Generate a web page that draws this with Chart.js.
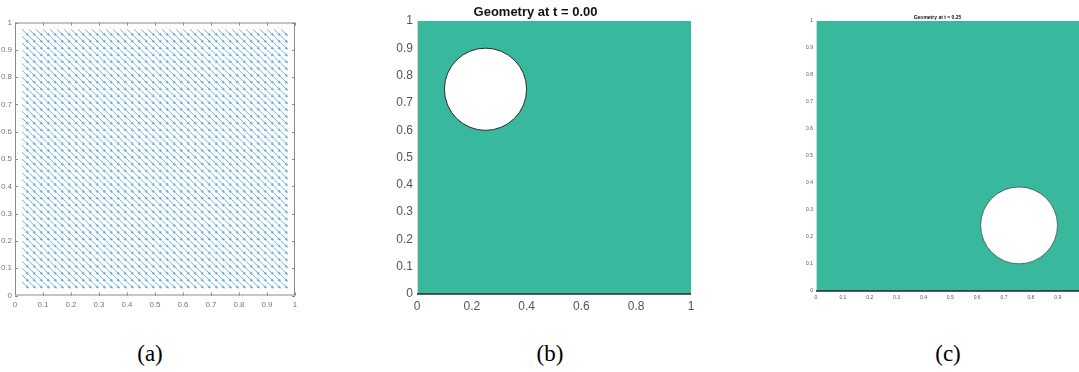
<!DOCTYPE html>
<html>
<head>
<meta charset="utf-8">
<script src="https://cdn.jsdelivr.net/npm/chart.js@4.4.1/dist/chart.umd.min.js"></script>
<style>
  html, body { margin: 0; padding: 0; background: #fff; width: 1079px; height: 372px; overflow: hidden; }
  .panel { position: absolute; }
  .cap { position: absolute; top: 341px; width: 60px; text-align: center; font-family: "Liberation Serif", "DejaVu Serif", serif; font-size: 23px; color: #000; }
</style>
</head>
<body>
<div class="panel" style="left:0;top:0;width:310px;height:320px"><canvas id="quiver" width="310" height="320"></canvas></div>
<div class="panel" style="left:380px;top:0;width:330px;height:330px"><canvas id="geo0" width="330" height="330"></canvas></div>
<div class="panel" style="left:790px;top:0;width:300px;height:310px"><canvas id="geo1" width="300" height="310"></canvas></div>
<div class="cap" style="left:120px">(a)</div>
<div class="cap" style="left:520px">(b)</div>
<div class="cap" style="left:918px">(c)</div>
<script>
// quiver grid (arrow tails) and uniform velocity
const gridX = [0.025, 0.05, 0.075, 0.1, 0.125, 0.15, 0.175, 0.2, 0.225, 0.25, 0.275, 0.3, 0.325, 0.35, 0.375, 0.4, 0.425, 0.45, 0.475, 0.5,
  0.525, 0.55, 0.575, 0.6, 0.625, 0.65, 0.675, 0.7, 0.725, 0.75, 0.775, 0.8, 0.825, 0.85, 0.875, 0.9, 0.925, 0.95];
const gridY = [0.05, 0.075, 0.1, 0.125, 0.15, 0.175, 0.2, 0.225, 0.25, 0.275, 0.3, 0.325, 0.35, 0.375, 0.4, 0.425, 0.45, 0.475, 0.5, 0.525,
  0.55, 0.575, 0.6, 0.625, 0.65, 0.675, 0.7, 0.725, 0.75, 0.775, 0.8, 0.825, 0.85, 0.875, 0.9, 0.925, 0.95, 0.975];
const velU = 1;
const velV = -1;
const arrowScale = 0.0225;

// geometry snapshots: hole centre and radius
const holeT0 = { x: 0.25, y: 0.75, r: 0.15 };
const holeT1 = { x: 0.756, y: 0.243, r: 0.143 };
const titleT0 = 'Geometry at t = 0.00';
const titleT1 = 'Geometry at t = 0.25';

// tick values
const ticksTenth = [0, 0.1, 0.2, 0.3, 0.4, 0.5, 0.6, 0.7, 0.8, 0.9, 1];
const ticksFifth = [0, 0.2, 0.4, 0.6, 0.8, 1];
const tickLabel = v => (v === 0 || v === 1) ? String(v) : v.toFixed(1);

const GREEN = 'rgb(56,185,157)';

// build quiver segments (shaft + 2 head strokes), separated by gaps
const quiverData = [];
gridY.forEach(y0 => {
  gridX.forEach(x0 => {
    const dx = velU * arrowScale, dy = velV * arrowScale;
    const x1 = x0 + dx, y1 = y0 + dy;
    const ang = Math.atan2(dy, dx), hl = 0.3 * Math.hypot(dx, dy);
    quiverData.push({ x: x0, y: y0 }, { x: x1, y: y1 }, { x: NaN, y: NaN });
    [0.45, -0.45].forEach(a => {
      quiverData.push({ x: x1, y: y1 },
        { x: x1 - hl * Math.cos(ang + a), y: y1 - hl * Math.sin(ang + a) },
        { x: NaN, y: NaN });
    });
  });
});

function fixedTicks(values) {
  return s => { s.ticks = values.map(v => ({ value: v })); };
}

// MATLAB style box with inward ticks
const boxPlugin = {
  id: 'box',
  afterDatasetsDraw(chart) {
    const { ctx, chartArea: a, scales } = chart;
    ctx.save();
    ctx.strokeStyle = '#8a8a8a';
    ctx.lineWidth = 1;
    ctx.strokeRect(a.left + 0.5, a.top + 0.5, a.right - a.left - 1, a.bottom - a.top - 1);
    ctx.beginPath();
    ticksTenth.forEach(v => {
      const px = Math.round(scales.x.getPixelForValue(v)) + 0.5;
      ctx.moveTo(px, a.bottom); ctx.lineTo(px, a.bottom - 3);
      ctx.moveTo(px, a.top); ctx.lineTo(px, a.top + 3);
      const py = Math.round(scales.y.getPixelForValue(v)) + 0.5;
      ctx.moveTo(a.left, py); ctx.lineTo(a.left + 3, py);
      ctx.moveTo(a.right, py); ctx.lineTo(a.right - 3, py);
    });
    ctx.stroke();
    ctx.restore();
  }
};

// green domain with dark bottom edge
const domainPlugin = {
  id: 'domain',
  beforeDatasetsDraw(chart) {
    const { ctx, chartArea: a } = chart;
    ctx.save();
    ctx.fillStyle = GREEN;
    ctx.fillRect(a.left, a.top, a.right - a.left, a.bottom - a.top);
    ctx.strokeStyle = '#d8d8d8';
    ctx.lineWidth = 1;
    ctx.beginPath();
    ctx.moveTo(a.left + 0.5, a.top); ctx.lineTo(a.left + 0.5, a.bottom);
    ctx.stroke();
    ctx.strokeStyle = '#1e2b28';
    ctx.lineWidth = 1.5;
    ctx.beginPath();
    ctx.moveTo(a.left, a.bottom); ctx.lineTo(a.right, a.bottom);
    ctx.stroke();
    ctx.restore();
  }
};

new Chart(document.getElementById('quiver'), {
  type: 'scatter',
  data: {
    datasets: [{
      data: quiverData,
      showLine: true,
      spanGaps: false,
      borderColor: '#4a9fd6',
      borderWidth: 0.8,
      pointRadius: 0
    }]
  },
  options: {
    responsive: false,
    animation: false,
    layout: { padding: { top: 22.5, right: 15, left: 0, bottom: 0 } },
    plugins: { legend: { display: false }, tooltip: { enabled: false } },
    scales: {
      x: {
        min: 0, max: 1,
        afterBuildTicks: fixedTicks(ticksTenth),
        afterFit: s => { s.height = 24.5; },
        grid: { display: false, drawTicks: false },
        border: { display: false },
        ticks: { padding: 4, color: '#777', font: { family: 'Liberation Sans', size: 8 }, callback: tickLabel, maxRotation: 0 }
      },
      y: {
        min: 0, max: 1,
        afterBuildTicks: fixedTicks(ticksTenth),
        afterFit: s => { s.width = 15; },
        grid: { display: false, drawTicks: false },
        border: { display: false },
        ticks: { padding: 3, color: '#777', font: { family: 'Liberation Sans', size: 8 }, callback: tickLabel }
      }
    }
  },
  plugins: [boxPlugin]
});

function geometryChart(id, hole, title, opt) {
  const holeRadius = c => {
    const sx = c.chart.scales.x;
    return sx.getPixelForValue(hole.r) - sx.getPixelForValue(0);
  };
  return new Chart(document.getElementById(id), {
    type: 'scatter',
    data: {
      datasets: [{
        data: [{ x: hole.x, y: hole.y }],
        backgroundColor: '#ffffff',
        borderColor: '#2b2b2b',
        borderWidth: opt.edge,
        pointRadius: holeRadius,
        pointHoverRadius: holeRadius
      }]
    },
    options: {
      responsive: false,
      animation: false,
      layout: { padding: { top: 0, right: opt.right, left: 0, bottom: 0 } },
      plugins: {
        legend: { display: false },
        tooltip: { enabled: false },
        title: {
          display: true,
          text: title,
          color: '#111',
          font: { family: 'Liberation Sans', size: opt.titleSize, weight: 'bold', lineHeight: 1 },
          padding: { top: opt.titleTop, bottom: opt.titleBottom }
        }
      },
      scales: {
        x: {
          min: 0, max: 1,
          afterBuildTicks: fixedTicks(opt.xTicks),
          afterFit: s => { s.height = opt.xAxisH; },
          grid: { display: false, drawTicks: false },
          border: { display: false },
          ticks: { padding: opt.xPad, color: '#555', font: { family: 'Liberation Sans', size: opt.tickSize }, callback: tickLabel, maxRotation: 0, autoSkip: false }
        },
        y: {
          min: 0, max: 1,
          afterBuildTicks: fixedTicks(ticksTenth),
          afterFit: s => { s.width = opt.yAxisW; },
          grid: { display: false, drawTicks: false },
          border: { display: false },
          ticks: { padding: opt.yPad, color: '#555', font: { family: 'Liberation Sans', size: opt.tickSize }, callback: tickLabel, autoSkip: false }
        }
      }
    },
    plugins: [domainPlugin]
  });
}

geometryChart('geo0', holeT0, titleT0, {
  right: 19, titleSize: 13, titleTop: 6, titleBottom: 2,
  xTicks: ticksFifth, xAxisH: 36, yAxisW: 37, xPad: 5, yPad: 4, tickSize: 12, edge: 1
});
geometryChart('geo1', holeT1, titleT1, {
  right: 5, titleSize: 5, titleTop: 15, titleBottom: 1,
  xTicks: ticksTenth, xAxisH: 19, yAxisW: 26, xPad: 4, yPad: 3, tickSize: 5, edge: 0.6
});
</script>
</body>
</html>
